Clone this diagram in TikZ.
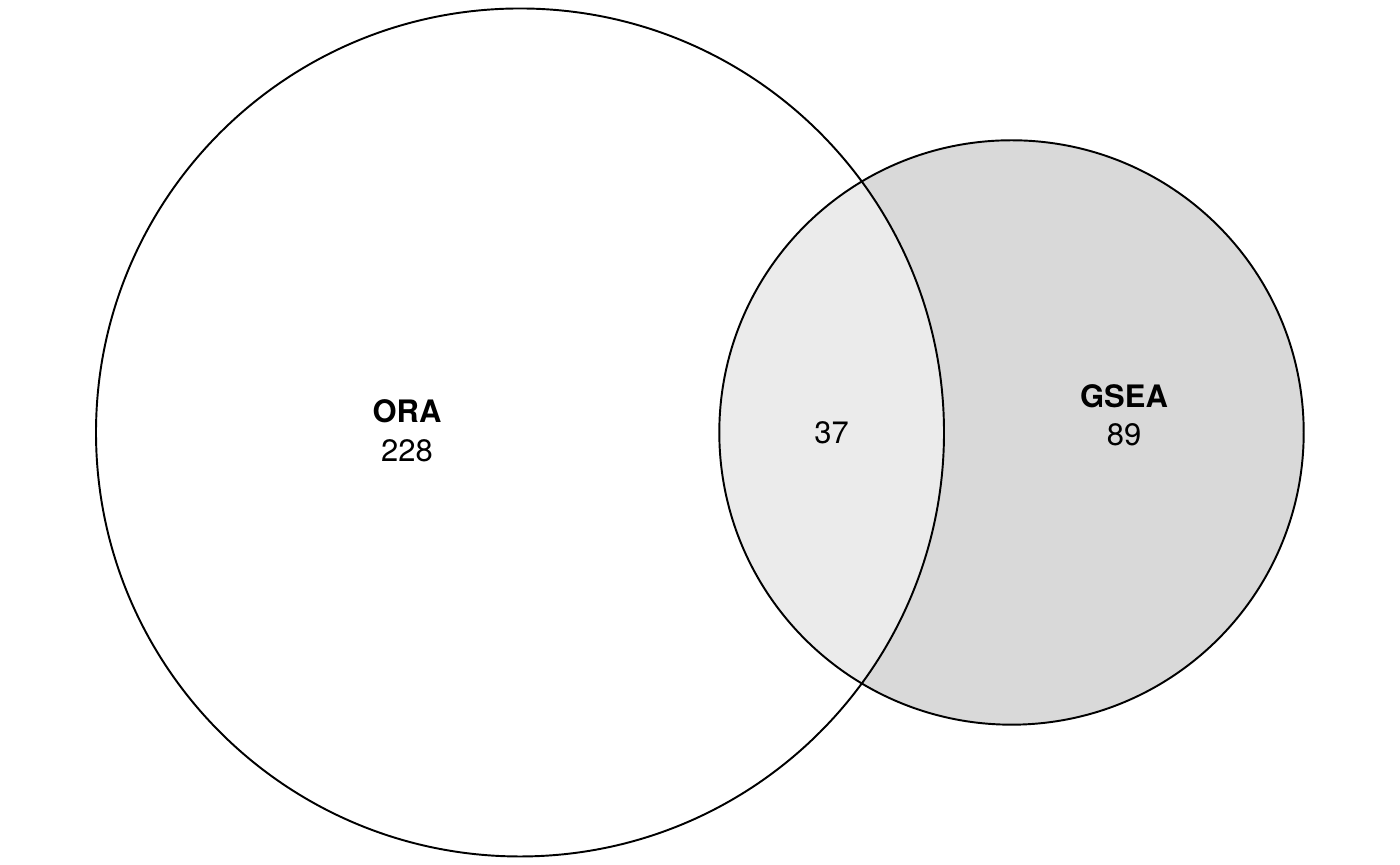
\documentclass[tikz,border=0pt]{standalone}
\usepackage{fontspec}
\setmainfont{TeX Gyre Heros}
\usetikzlibrary{positioning}
\definecolor{setgray}{HTML}{D9D9D9}
\definecolor{overlapgray}{HTML}{EBEBEB}

\begin{document}
\begin{tikzpicture}[x=0.01cm,y=0.01cm,
  setline/.style={black,line width=0.55pt},
  setlabel/.style={inner sep=0pt,font=\fontsize{8.8}{10}\selectfont\bfseries},
  setcount/.style={inner sep=0pt,font=\fontsize{8.8}{10}\selectfont}]
\useasboundingbox (0,0) rectangle (1400,865);

%fill GSEA only
\fill[setgray](1011.5,432.5)circle(292.2);
%fill overlap
\begin{scope}
\clip(520,432.5)circle(424);
\fill[overlapgray](1011.5,432.5)circle(292.2);
\end{scope}

%draw set borders
\draw[setline](520,432.5)circle(424);
\draw[setline](1011.5,432.5)circle(292.2);

%labels ORA
\node[setlabel] (ora) at (407,453.5) {ORA};
\node[setcount] (oracount) at (407,414) {228};
%labels overlap
\node[setcount] (bothcount) at (831.5,432) {37};
%labels GSEA
\node[setlabel] (gsea) at (1124,468.5) {GSEA};
\node[setcount] (gseacount) at (1124,430) {89};
\end{tikzpicture}
\end{document}
